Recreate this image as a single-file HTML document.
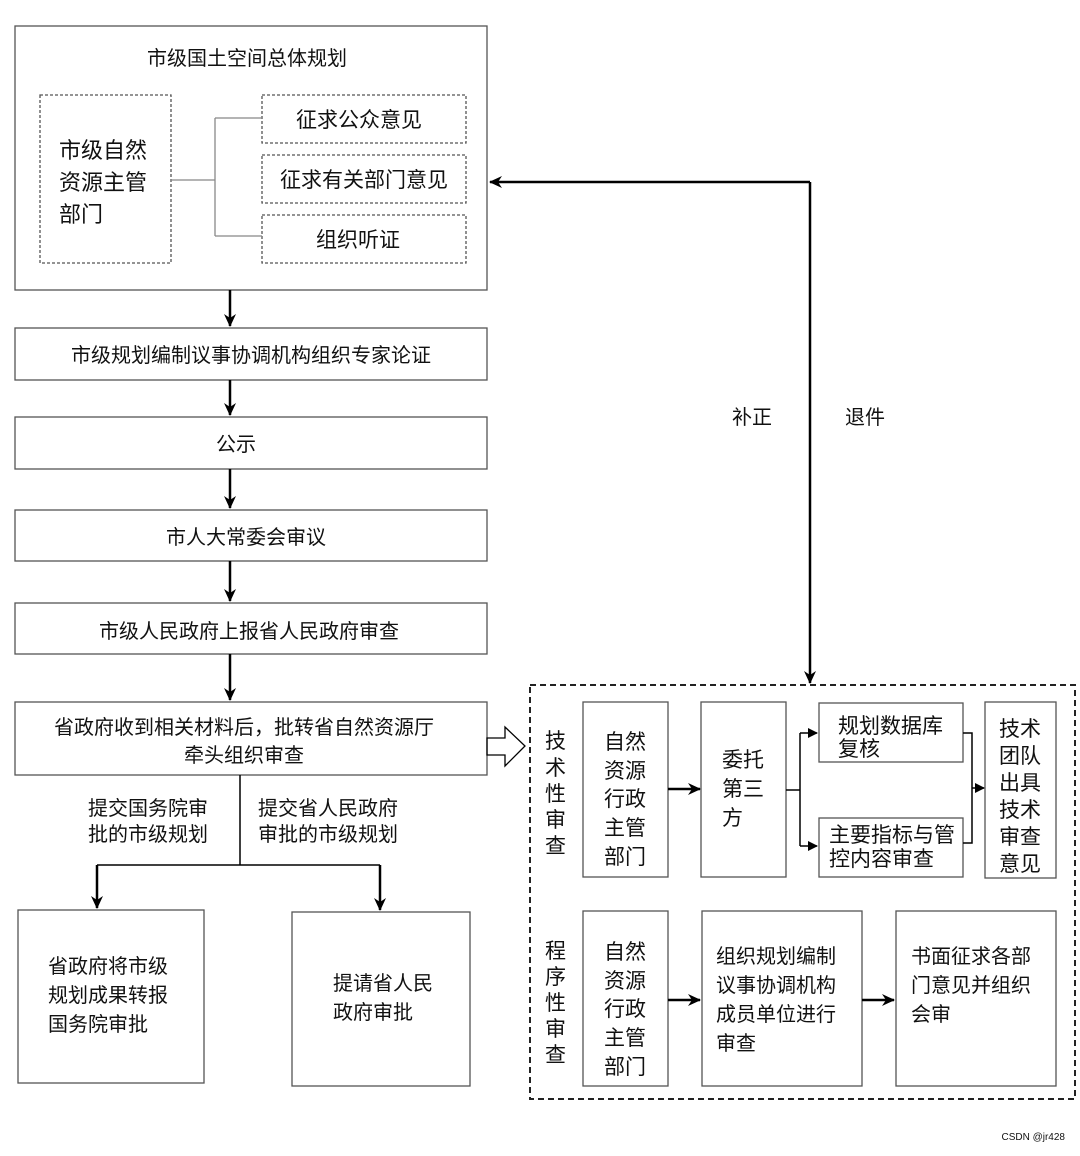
<!DOCTYPE html>
<html><head><meta charset="utf-8"><style>
body{margin:0;background:#fff}
svg text{font-family:"Liberation Sans","Noto Sans CJK SC",sans-serif;fill:#111}
</style></head><body>
<svg width="1080" height="1151" viewBox="0 0 1080 1151" xmlns="http://www.w3.org/2000/svg">
<defs><marker id="a" markerWidth="10" markerHeight="10" refX="9" refY="5" orient="auto" markerUnits="userSpaceOnUse"><path d="M0,0 L10,5 L0,10 Z" fill="#000"/></marker>
<marker id="b" markerWidth="14" markerHeight="14" refX="12" refY="7" orient="auto" markerUnits="userSpaceOnUse"><path d="M0,1 L13,7 L0,13 L4,7 Z" fill="#000"/></marker></defs>
<g fill="none" stroke="#555" stroke-width="1.3">
<rect x="15" y="26" width="472" height="264"/>
<rect x="40" y="95" width="131" height="168" stroke-dasharray="3,2"/>
<rect x="262" y="95" width="204" height="48" stroke-dasharray="3,2"/>
<rect x="262" y="155" width="204" height="48" stroke-dasharray="3,2"/>
<rect x="262" y="215" width="204" height="48" stroke-dasharray="3,2"/>
<path d="M171,180H215M215,118V236M215,118H262M215,236H262" stroke="#888"/>
<rect x="15" y="328" width="472" height="52"/>
<rect x="15" y="417" width="472" height="52"/>
<rect x="15" y="510" width="472" height="51"/>
<rect x="15" y="603" width="472" height="51"/>
<rect x="15" y="702" width="472" height="73"/>
<rect x="18" y="910" width="186" height="173"/>
<rect x="292" y="912" width="178" height="174"/>
<rect x="583" y="702" width="85" height="175"/>
<rect x="701" y="702" width="85" height="175"/>
<rect x="819" y="703" width="144" height="59"/>
<rect x="819" y="818" width="144" height="59"/>
<rect x="985" y="702" width="71" height="176"/>
<rect x="583" y="911" width="85" height="175"/>
<rect x="702" y="911" width="160" height="175"/>
<rect x="896" y="911" width="160" height="175"/>
</g>
<rect x="530" y="685" width="545" height="414" fill="none" stroke="#222" stroke-width="2" stroke-dasharray="6,4"/>
<g stroke="#000" stroke-width="2.5" fill="none">
<path d="M230,290V326" marker-end="url(#b)"/>
<path d="M230,380V415" marker-end="url(#b)"/>
<path d="M230,469V508" marker-end="url(#b)"/>
<path d="M230,561V601" marker-end="url(#b)"/>
<path d="M230,654V700" marker-end="url(#b)"/>
<path d="M810,182H490" marker-end="url(#b)"/>
<path d="M810,182V683" marker-end="url(#b)"/>
<path d="M97,865V908" marker-end="url(#b)"/>
<path d="M380,865V910" marker-end="url(#b)"/>
<path d="M668,789H700" marker-end="url(#b)"/>
<path d="M668,1000H700" marker-end="url(#b)"/>
<path d="M862,1000H894" marker-end="url(#b)"/>
</g>
<g stroke="#000" stroke-width="1.5" fill="none">
<path d="M240,775V865M97,865H380"/>
<path d="M786,790H800M800,733V846"/>
<path d="M800,733H817" marker-end="url(#a)"/>
<path d="M800,846H817" marker-end="url(#a)"/>
<path d="M963,733H972V843H963M972,788H984" marker-end="url(#a)"/>
<path d="M487,738H505V727L525,746L505,766V755H487Z" stroke-width="1.3"/>
</g>
<g font-size="20">
<text x="247" y="65" text-anchor="middle">市级国土空间总体规划</text>
<text x="59" y="158" font-size="22">市级自然</text>
<text x="59" y="190" font-size="22">资源主管</text>
<text x="59" y="222" font-size="22">部门</text>
<text x="359" y="127" text-anchor="middle" font-size="21">征求公众意见</text>
<text x="364" y="187" text-anchor="middle" font-size="21">征求有关部门意见</text>
<text x="358" y="247" text-anchor="middle" font-size="21">组织听证</text>
<text x="251" y="362" text-anchor="middle">市级规划编制议事协调机构组织专家论证</text>
<text x="236" y="451" text-anchor="middle">公示</text>
<text x="246" y="544" text-anchor="middle">市人大常委会审议</text>
<text x="249" y="638" text-anchor="middle">市级人民政府上报省人民政府审查</text>
<text x="244" y="734" text-anchor="middle">省政府收到相关材料后，批转省自然资源厅</text>
<text x="244" y="762" text-anchor="middle">牵头组织审查</text>
<text x="88" y="815">提交国务院审</text>
<text x="88" y="841">批的市级规划</text>
<text x="258" y="815">提交省人民政府</text>
<text x="258" y="841">审批的市级规划</text>
<text x="48" y="973">省政府将市级</text>
<text x="48" y="1002">规划成果转报</text>
<text x="48" y="1031">国务院审批</text>
<text x="333" y="990">提请省人民</text>
<text x="333" y="1019">政府审批</text>
<text x="732" y="424">补正</text>
<text x="845" y="424">退件</text>
</g>
<g font-size="21">
<text x="545" y="748">技</text><text x="545" y="775">术</text><text x="545" y="801">性</text><text x="545" y="827">审</text><text x="545" y="853">查</text>
<text x="545" y="958">程</text><text x="545" y="984">序</text><text x="545" y="1010">性</text><text x="545" y="1036">审</text><text x="545" y="1062">查</text>
<text x="604" y="749">自然</text><text x="604" y="778">资源</text><text x="604" y="806">行政</text><text x="604" y="835">主管</text><text x="604" y="864">部门</text>
<text x="604" y="959">自然</text><text x="604" y="988">资源</text><text x="604" y="1016">行政</text><text x="604" y="1045">主管</text><text x="604" y="1074">部门</text>
<text x="722" y="767">委托</text><text x="722" y="796">第三</text><text x="722" y="825">方</text>
<text x="838" y="733">规划数据库</text><text x="838" y="756">复核</text>
<text x="829" y="842">主要指标与管</text><text x="829" y="866">控内容审查</text>
<text x="999" y="736">技术</text><text x="999" y="763">团队</text><text x="999" y="790">出具</text><text x="999" y="817">技术</text><text x="999" y="844">审查</text><text x="999" y="871">意见</text>
<text x="716" y="963" font-size="20">组织规划编制</text><text x="716" y="992" font-size="20">议事协调机构</text><text x="716" y="1021" font-size="20">成员单位进行</text><text x="716" y="1050" font-size="20">审查</text>
<text x="911" y="963" font-size="20">书面征求各部</text><text x="911" y="992" font-size="20">门意见并组织</text><text x="911" y="1021" font-size="20">会审</text>
</g>
<text x="1065" y="1140" font-size="10" text-anchor="end" fill="#999">CSDN @jr428</text>
</svg>
</body></html>
